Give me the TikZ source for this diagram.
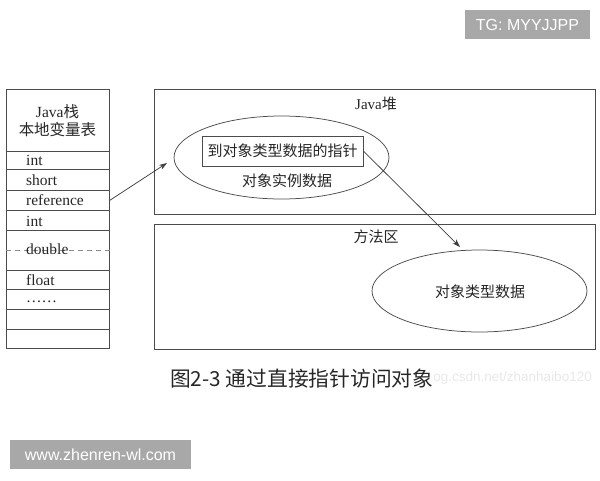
\documentclass[tikz,border=0pt]{standalone}
\usepackage{fontspec}
\setmainfont{Liberation Serif}
\newfontfamily\cjk{Noto Sans CJK SC}
\newfontfamily\wmfont{Liberation Sans}
\usetikzlibrary{shapes.geometric,arrows.meta}
\definecolor{wmgray}{HTML}{A8A8A8}
\begin{document}
\begin{tikzpicture}[x=1pt,y=-1pt,
  ln/.style={draw=black!70,line width=0.75pt},
  cell/.style={ln,rectangle,minimum width=103pt,inner sep=0pt,anchor=north west},
  lbl/.style={anchor=west,inner sep=0pt,text=black!85,font=\fontsize{15.5}{17}\selectfont},
  txt/.style={inner sep=0pt,text=black!85,font=\fontsize{15}{17}\selectfont},
  region/.style={ln,rectangle,minimum width=441pt,minimum height=125pt,inner sep=0pt,anchor=north west},
  oval/.style={ln,ellipse,inner sep=0pt},
  arr/.style={draw=black!75,line width=0.75pt,-{Stealth[length=8pt,width=5.5pt]}},
  wm/.style={fill=wmgray,text=white,inner sep=0pt,font=\wmfont\fontsize{16}{18}\selectfont}]
\useasboundingbox (0,0) rectangle (600,480);
% stack
\node[cell,minimum height=62pt] (hdr) at (6,89) {};
\node[cell,minimum height=18pt] (r1) at (6,151) {};
\node[cell,minimum height=21pt] (r2) at (6,169) {};
\node[cell,minimum height=20pt] (r3) at (6,190) {};
\node[cell,minimum height=20pt] (r4) at (6,210) {};
\node[cell,minimum height=40pt] (r5) at (6,230) {};
\node[cell,minimum height=19pt] (r6) at (6,270) {};
\node[cell,minimum height=20pt] (r7) at (6,289) {};
\node[cell,minimum height=20pt] (r8) at (6,309) {};
\node[cell,minimum height=19pt] (r9) at (6,329) {};
\draw[black!45,dashed,line width=0.6pt,dash pattern=on 5pt off 4pt] (r5.west) -- (r5.east);
\node[txt,align=center,font=\fontsize{15.5}{17.5}\selectfont] (hdrt) at (57.5,120.5) {Java{\cjk 栈}\\{\cjk 本地变量表}};
\node[lbl] (t1) at (26,160) {int};
\node[lbl] (t2) at (26,180) {short};
\node[lbl] (t3) at (26,200) {reference};
\node[lbl] (t4) at (26,221) {int};
\node[lbl] (t5) at (26,249) {double};
\node[lbl] (t6) at (26,280) {float};
\node[lbl] (t7) at (26,302) {……};
% heap
\node[region] (heap) at (154,89) {};
\node[txt] (heapt) at (376,104) {Java{\cjk 堆}};
\node[oval,minimum width=215pt,minimum height=83pt] (e1) at (281.5,157.5) {};
\node[ln,rectangle,minimum width=161pt,minimum height=30pt,inner sep=0pt,text=black!85,font=\cjk\fontsize{15}{17}\selectfont] (ptr) at (282.5,151) {到对象类型数据的指针};
\node[txt,font=\cjk\fontsize{15}{17}\selectfont] (inst) at (287,181) {对象实例数据};
% method area
\node[region] (meth) at (154,224) {};
\node[txt,font=\cjk\fontsize{15}{17}\selectfont] (metht) at (376,237) {方法区};
\node[oval,minimum width=215pt,minimum height=82pt] (e2) at (479.5,291) {};
\node[txt,font=\cjk\fontsize{15}{17}\selectfont] (typ) at (480,292) {对象类型数据};
% arrows
\coordinate (tip1) at (167,163);
\coordinate (tip2) at (460,247);
\draw[arr] (r3.east) -- (tip1);
\draw[arr] (ptr.east) -- (tip2);
% caption
\node[anchor=east,inner sep=0pt,text=black!9,font=\wmfont\fontsize{13.5}{16}\selectfont] (csdn) at (592,378) {og.csdn.net/zhanhaibo120};
\node[anchor=west,inner sep=0pt,text=black!85,font=\cjk\fontsize{20.75}{23}\selectfont] (cap) at (170,379) {图2-3 通过直接指针访问对象};
% watermarks
\node[wm,minimum width=125pt,minimum height=29pt] (tg) at (527.5,24.5) {TG: MYYJJPP};
\node[wm,minimum width=181pt,minimum height=29pt] (www) at (100.5,454.5) {www.zhenren-wl.com};
\end{tikzpicture}
\end{document}
